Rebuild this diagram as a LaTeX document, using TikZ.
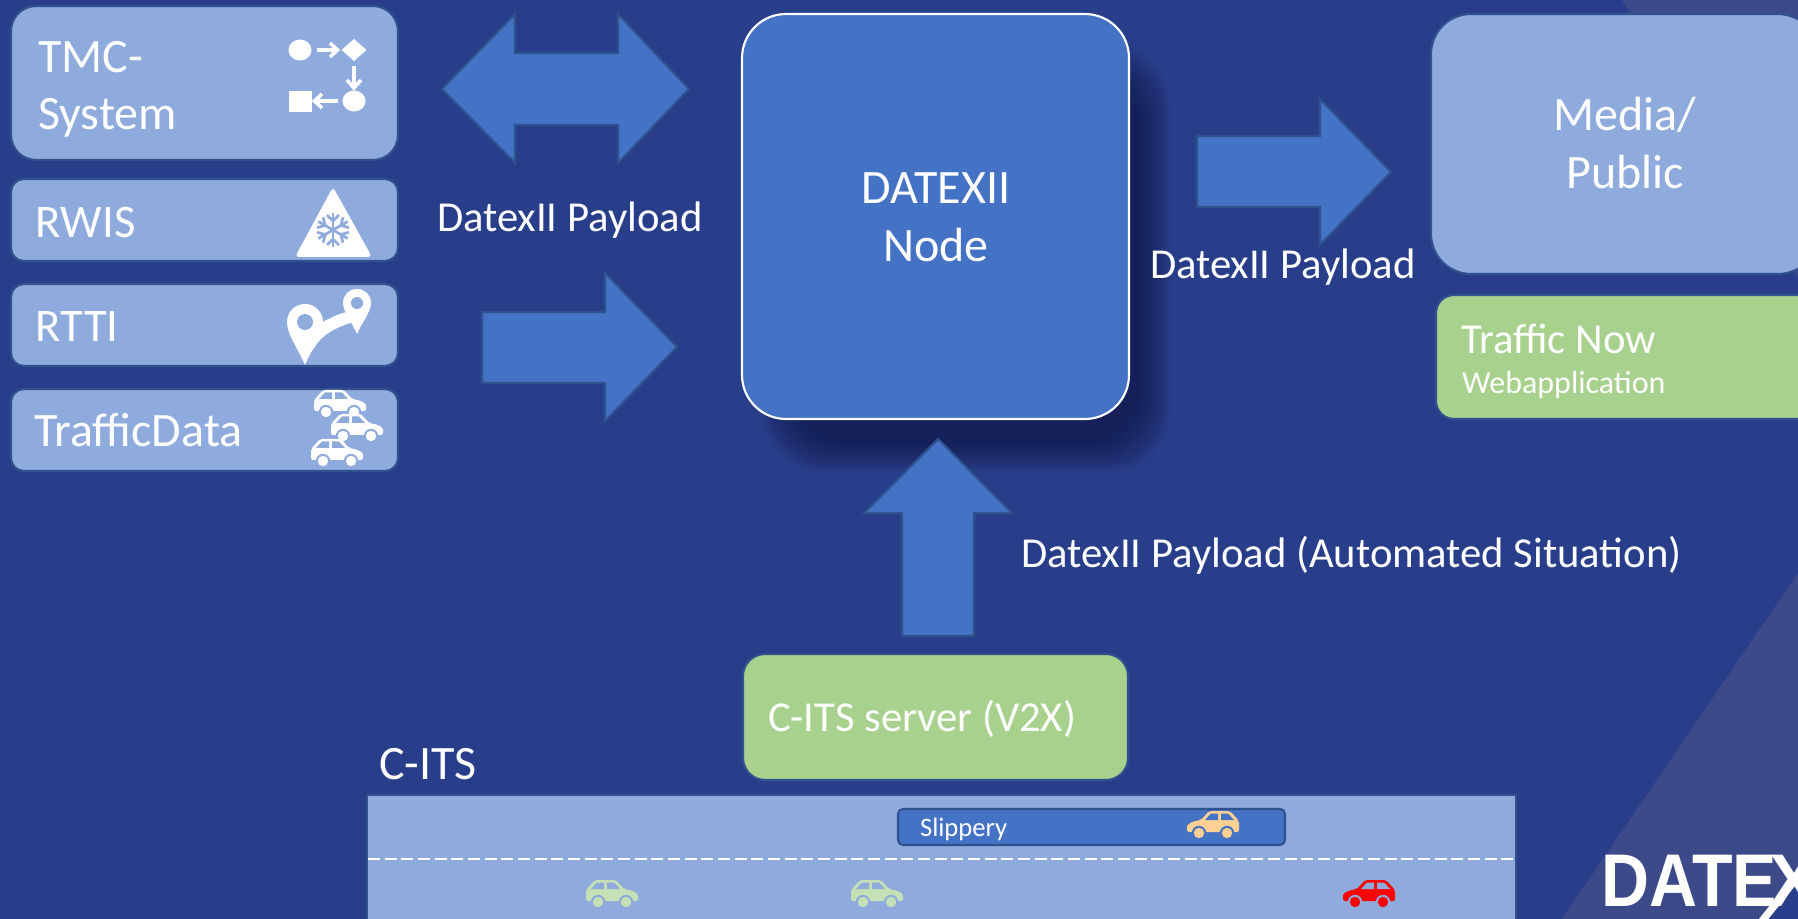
\documentclass[tikz,border=0pt]{standalone}
\usepackage{fontspec}
\setmainfont{Carlito}
\newfontfamily\logofont{Liberation Sans}
\usetikzlibrary{shapes.geometric,arrows.meta}
\definecolor{bgblue}{HTML}{293E8B}
\definecolor{trianglecol}{HTML}{3D4A8A}
\definecolor{lightbox}{HTML}{8FAADC}
\definecolor{midblue}{HTML}{4472C4}
\definecolor{edgeblue}{HTML}{2F528F}
\definecolor{greenbox}{HTML}{A9D18E}
\definecolor{lightgreen}{HTML}{C5E0B4}
\definecolor{carorange}{HTML}{FFD094}
\definecolor{shadowcol}{HTML}{15204F}
\tikzset{
  x=0.75pt,y=-0.75pt,
  boxbase/.style={draw=edgeblue,line width=1.6pt,inner sep=0pt,outer sep=0pt,anchor=north west},
  lightcard/.style={boxbase,fill=lightbox},
  greencard/.style={boxbase,fill=greenbox},
  blockarrow/.style={fill=midblue,draw=edgeblue,line width=1.6pt,line join=miter},
  label/.style={text=white,inner sep=0pt,outer sep=0pt,anchor=base west},
  labelc/.style={text=white,inner sep=0pt,outer sep=0pt,anchor=base},
  iconline/.style={draw=white,line width=2.7pt,fill=none},
}
\newcommand\pxbox[7]{\node[#6,rounded corners=#7*0.75pt,minimum width=(#4-#2+2)*0.75pt,minimum height=(#5-#3+2)*0.75pt] (#1) at ({#2-1},{#3-1}) {};}
% car: centre x,y ; flip (1 = nose right, -1 = nose left); body colour; window colour
\newcommand\carshape[5]{%
\begin{scope}[shift={(#1,#2)},xscale=#3]
  \fill[#4,rounded corners=1.6pt] (26,8) -- (26,1) -- (20,-2.5) -- (12,-4) -- (4,-13) -- (-17,-13) -- (-26,-3) -- (-26,8) -- cycle;
  \fill[#5] (8,-4) -- (2,-10.5) -- (-5,-10.5) -- (-5,-4) -- cycle;
  \fill[#5] (-8,-10.5) -- (-15,-10.5) -- (-21,-4) -- (-8,-4) -- cycle;
  \fill[#5] (14,9) circle (7.2);
  \fill[#5] (-14,9) circle (7.2);
  \fill[#4] (14,9) circle (5.2);
  \fill[#4] (-14,9) circle (5.2);
\end{scope}}
\begin{document}
\begin{tikzpicture}
\clip (0,0) rectangle (1798,919);
\fill[bgblue] (0,0) rectangle (1798,919);
% background triangles
\fill[trianglecol] (1622,0) -- (1798,0) -- (1798,278) -- cycle;
\fill[trianglecol] (1562,919) -- (1798,573) -- (1798,919) -- cycle;

% shadow of central node
\foreach \i in {0,...,23}{
  \fill[shadowcol,opacity=0.05,rounded corners=45pt]
     (762+1.3*\i,45+1.3*\i) rectangle (1170-1.3*\i,472-1.3*\i);
}

% left source cards
\pxbox{tmc}{12}{7}{397}{159}{lightcard}{25}
\pxbox{rwis}{12}{180}{397}{260}{lightcard}{13}
\pxbox{rtti}{12}{285}{397}{365}{lightcard}{13}
\pxbox{tdata}{12}{390}{397}{470}{lightcard}{13}
\node[label,font=\fontsize{36}{43}\selectfont] (tmctxt1) at (38,72.5) {TMC-};
\node[label,font=\fontsize{36}{43}\selectfont] (tmctxt2) at (38,129.5) {System};
\node[label,font=\fontsize{35}{42}\selectfont] (rwistxt) at (36,237.5) {RWIS};
\node[label,font=\fontsize{35}{42}\selectfont] (rttitxt) at (36,341.5) {RTTI};
\node[label,font=\fontsize{36}{43}\selectfont] (tdatatxt) at (34,446) {TrafficData};

% TMC icon
\fill[white] (300,50) ellipse (11.5 and 10.5);
\fill[white] (354,39) -- (366.5,50) -- (354,61) -- (341.5,50) -- cycle;
\fill[white] (354,101) ellipse (11.5 and 10.5);
\fill[white] (289,91) rectangle (312,112);
\draw[iconline] (317,50) -- (337,50);
\draw[iconline] (330,43) -- (337.5,50) -- (330,57);
\draw[iconline] (354,66) -- (354,87);
\draw[iconline] (347,80) -- (354,88) -- (361,80);
\draw[iconline] (338,101) -- (315,101);
\draw[iconline] (322,94) -- (314.5,101) -- (322,108);

% RWIS icon
\fill[white,rounded corners=3pt] (333,187) -- (372,257) -- (295,257) -- cycle;
\begin{scope}[shift={(333,230)}]
\foreach \a in {30,90,...,330}{
  \begin{scope}[rotate=\a]
    \draw[lightbox,line width=2pt] (0,0) -- (17,0);
    \draw[lightbox,line width=2pt] (15,-6) -- (9,0) -- (15,6);
  \end{scope}}
\end{scope}

% RTTI icon
\fill[white] (305,365) .. controls (299,350) and (287,335) .. (287,322) .. controls (287,312) and (295,304) .. (305,304) .. controls (315,304) and (323,312) .. (323,322) .. controls (323,335) and (311,350) .. (305,365) -- cycle;
\fill[lightbox] (305,322) circle (8);
\fill[white] (323,322) .. controls (330,318) and (338,314) .. (347,312) -- (353,322) .. controls (338,327) and (322,333) .. (313,350) -- cycle;
\fill[white] (357,334) .. controls (353,324) and (343,312) .. (343,303) .. controls (343,295) and (349,289) .. (357,289) .. controls (365,289) and (371,295) .. (371,303) .. controls (371,312) and (361,324) .. (357,334) -- cycle;
\fill[lightbox] (357,303) circle (6);

% traffic icon
\carshape{340}{403}{1}{white}{lightbox}
\carshape{357}{427}{1}{white}{lightbox}
\carshape{337}{452}{1}{white}{lightbox}

% block arrows
\draw[blockarrow] (442,89) -- (515,14) -- (515,53) -- (618,53) -- (618,14) -- (689,89) -- (618,163) -- (618,125) -- (515,125) -- (515,163) -- cycle;
\draw[blockarrow] (482,312) -- (605,312) -- (605,273) -- (677,347) -- (605,421) -- (605,383) -- (482,383) -- cycle;
\draw[blockarrow] (1197,136) -- (1320,136) -- (1320,99) -- (1391,172) -- (1320,245) -- (1320,207) -- (1197,207) -- cycle;

\node[label,font=\fontsize{32}{38}\selectfont] (payload1) at (437,232) {DatexII Payload};
\node[label,font=\fontsize{32}{38}\selectfont] (payload2) at (1150,279) {DatexII Payload};
\node[label,font=\fontsize{32}{38}\selectfont] (payload3) at (1021,567) {DatexII Payload (Automated Situation)};

% central node
\pxbox{datex}{743}{15}{1128}{418}{boxbase,fill=midblue,draw=white}{44}
\node[labelc,font=\fontsize{36}{43}\selectfont] (datextxt1) at (936,204) {DATEXII};
\node[labelc,font=\fontsize{36}{43}\selectfont] (datextxt2) at (936,262) {Node};

% up arrow
\draw[blockarrow] (938,439) -- (1012,513) -- (974,513) -- (974,636) -- (902,636) -- (902,513) -- (864,513) -- cycle;

% media and traffic now
\pxbox{media}{1432}{15}{1817}{273}{lightcard}{40}
\node[labelc,font=\fontsize{36}{43}\selectfont] (mediatxt1) at (1625,131) {Media/};
\node[labelc,font=\fontsize{36}{43}\selectfont] (mediatxt2) at (1625,189) {Public};
\pxbox{tnow}{1437}{296}{1830}{418}{greencard}{18}
\node[label,font=\fontsize{32}{38}\selectfont] (tnowtxt) at (1461,354) {Traffic Now};
\node[label,font=\fontsize{24}{29}\selectfont] (webtxt) at (1462,394) {Webapplication};

% C-ITS
\pxbox{cserver}{744}{655}{1127}{779}{greencard}{22}
\node[label,font=\fontsize{32}{38}\selectfont] (cservertxt) at (768,731) {C-ITS server (V2X)};
\node[label,font=\fontsize{36}{43}\selectfont] (citstxt) at (379,779) {C-ITS};
\pxbox{road}{368}{796}{1515}{940}{boxbase,fill=lightbox}{0}
\pxbox{slip}{899}{810}{1284}{844}{boxbase,fill=midblue}{5}
\node[label,font=\fontsize{20}{24}\selectfont] (sliptxt) at (920,836) {Slippery};
\coordinate (laneL) at (368,859);
\coordinate (laneR) at (1515,859);
\draw[white,line width=1.3pt,dash pattern=on 9pt off 3.5pt] (laneL) -- (laneR);
\carshape{1213}{824}{-1}{carorange}{midblue}
\carshape{612}{893}{1}{lightgreen}{lightbox}
\carshape{877}{893}{1}{lightgreen}{lightbox}
\carshape{1369}{893}{-1}{red}{lightbox}

% logo
\fill[bgblue] (1765,919) -- (1798,876) -- (1798,919) -- cycle;
\node[label,font=\logofont\bfseries\fontsize{56}{67}\selectfont] (logo) at (1601,906) {\scalebox{.89}[1]{DATE}};
\node[label,font=\logofont\bfseries\fontsize{56}{67}\selectfont] (logox) at (1769,906) {X};
\draw[white,line width=5.5pt] (1762,921) -- (1795,880);
\end{tikzpicture}
\end{document}
